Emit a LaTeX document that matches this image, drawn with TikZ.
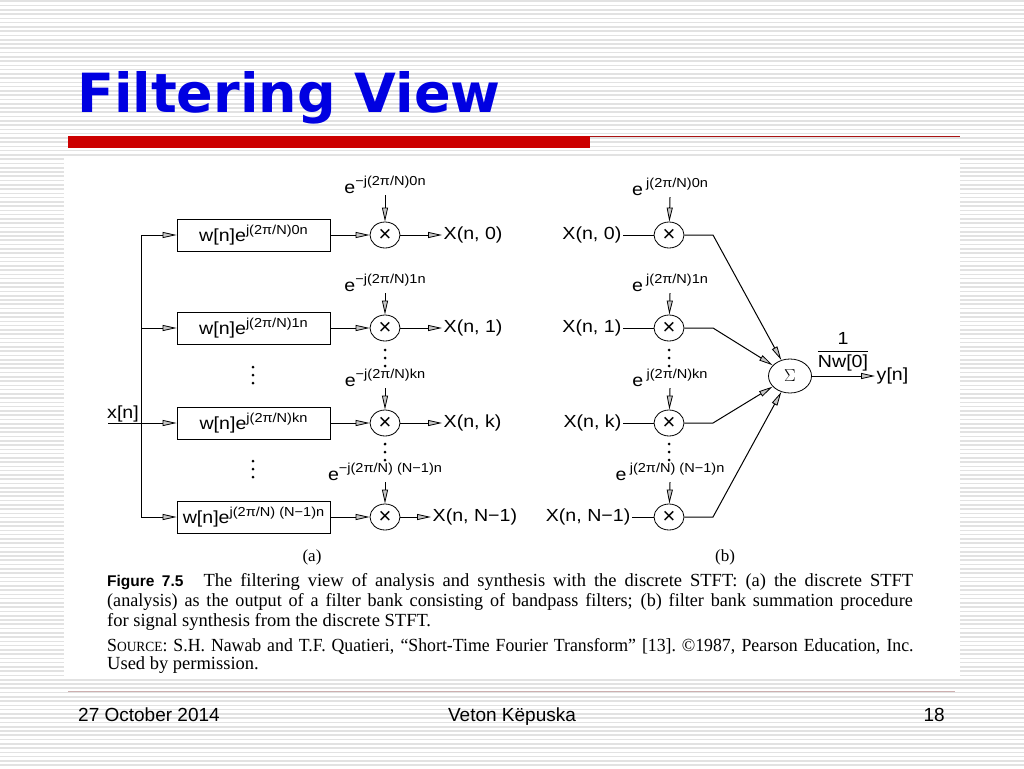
\documentclass[tikz,border=0pt]{standalone}
\usepackage{fontspec}
\usepackage{amsmath}
\setmainfont{Liberation Serif}
\newfontfamily\titlefont{DejaVu Sans}
\newfontfamily\lsans{Liberation Sans}
\usetikzlibrary{arrows.meta,shapes.geometric}
\definecolor{stripe}{RGB}{226,226,226}
\definecolor{titleblue}{RGB}{0,0,225}
\definecolor{barred}{RGB}{204,0,0}
\definecolor{darkred}{RGB}{170,20,20}
\definecolor{footline}{RGB}{205,175,175}
\newcommand{\hs}[1]{\scalebox{1.12}[1]{#1}}
\newcommand{\ex}[1]{\raisebox{0.42em}{\fontsize{13}{14}\selectfont #1}}
\begin{document}
\begin{tikzpicture}[x=1pt,y=-1pt,
  lbl/.style={font=\lsans\fontsize{17.5}{19}\selectfont, inner sep=1.5pt},
  fbox/.style={draw, line width=0.8pt, minimum width=153pt, minimum height=32pt, inner sep=0pt, font=\lsans\fontsize{17.5}{19}\selectfont},
  mult/.style={draw, ellipse, line width=0.8pt, minimum width=30pt, minimum height=26pt, inner sep=0pt, font=\lsans\fontsize{22}{22}\selectfont},
  sigma/.style={draw, ellipse, line width=0.8pt, minimum width=43pt, minimum height=34pt, inner sep=0pt, font=\fontsize{17}{18}\selectfont},
  conn/.style={line width=1pt, -{Triangle[length=14pt,width=6pt,fill=gray!45,line width=0.8pt]}},
  wire/.style={line width=1pt},
  captxt/.style={font=\fontsize{18.5}{20}\selectfont, inner sep=0pt, anchor=base west},
  foot/.style={font=\lsans\fontsize{19}{21}\selectfont, inner sep=0pt, anchor=base},
]
\useasboundingbox (0,0) rectangle (1024,768);
% background
\fill[white] (0,0) rectangle (1024,768);
\foreach \i in {0,...,180} \fill[stripe] (0,{\i*4.267+0.5}) rectangle (1024,{\i*4.267+2.1});
\fill[white] (64,158) rectangle (960,676);
% title
\node[font=\titlefont\bfseries\fontsize{54}{60}\selectfont, text=titleblue, anchor=base west, inner sep=0pt] (title) at (77,112) {Filtering View};
\fill[barred] (68,136) rectangle (590,148);
\draw[darkred, line width=1.2pt] (590,136.6) -- (960,136.6);
% ---------- (a) ----------
\foreach \n/\y/\t in {0/235/0n, 1/328/1n, k/423/kn}{
  \node[fbox] (b\n) at (253.5,\y) {\hs{w[n]e\ex{j(2π/N)\t}}};
}
\node[fbox] (bN) at (253.5,517) {\hs{w[n]e\ex{j(2π/N) (N−1)n}}};
\coordinate (t0) at (141,235);
\coordinate (t1) at (141,328);
\coordinate (tk) at (141,423);
\coordinate (tN) at (141,517);
\coordinate (xin) at (108,423);
\draw[wire] (t0) -- (tN);
\draw[wire] (xin) -- (tk);
\node[lbl, anchor=south] (xlab) at (123,424) {\hs{x[n]}};
\foreach \n in {0,1,k,N} \draw[conn] (t\n) -- (b\n);
\node[mult] (m0) at (385,235) {×};
\node[mult] (m1) at (385,328) {×};
\node[mult] (mk) at (385,423) {×};
\node[mult] (mN) at (385,517) {×};
\node[lbl] (e0) at (385,185) {\hs{e\ex{−j(2π/N)0n}}};
\node[lbl] (e1) at (385,283) {\hs{e\ex{−j(2π/N)1n}}};
\node[lbl] (ek) at (385,378) {\hs{e\ex{−j(2π/N)kn}}};
\node[lbl] (eN) at (385,472) {\hs{e\ex{−j(2π/N) (N−1)n}}};
\foreach \n in {0,1,k,N}{
  \draw[conn] (b\n) -- (m\n);
  \draw[conn] (e\n.south) -- (m\n);
}
\node[lbl, anchor=west] (x0) at (442,235) {\hs{X(n, 0)}};
\node[lbl, anchor=west] (x1) at (442,328) {\hs{X(n, 1)}};
\node[lbl, anchor=west] (xk) at (442,423) {\hs{X(n, k)}};
\node[lbl, anchor=west] (xN) at (431,517) {\hs{X(n, N−1)}};
\foreach \n in {0,1,k,N} \draw[conn] (m\n) -- (x\n);
% dots (a)
\foreach \y in {367,375,383,461,469,477} \fill (253,\y) circle (1.5);
\foreach \y in {350,358,366,444,452,460} \fill (385,\y) circle (1.5);
\node[font=\fontsize{17}{18}\selectfont, inner sep=0pt] (la) at (312,557) {(a)};
% ---------- (b) ----------
\node[lbl, anchor=east] (y0) at (623,235) {\hs{X(n, 0)}};
\node[lbl, anchor=east] (y1) at (623,328) {\hs{X(n, 1)}};
\node[lbl, anchor=east] (yk) at (623,423) {\hs{X(n, k)}};
\node[lbl, anchor=east] (yN) at (632,517) {\hs{X(n, N−1)}};
\node[mult] (n0) at (669,235) {×};
\node[mult] (n1) at (669,328) {×};
\node[mult] (nk) at (669,423) {×};
\node[mult] (nN) at (669,517) {×};
\node[lbl] (f0) at (670,187) {\hs{e\,\ex{j(2π/N)0n}}};
\node[lbl] (f1) at (670,283) {\hs{e\,\ex{j(2π/N)1n}}};
\node[lbl] (fk) at (670,378) {\hs{e\,\ex{j(2π/N)kn}}};
\node[lbl] (fN) at (670,472) {\hs{e\,\ex{j(2π/N) (N−1)n}}};
\node[sigma] (sig) at (790,376) {$\Sigma$};
\foreach \n/\y in {0/235,1/328,k/423,N/517}{
  \draw[wire] (y\n) -- (n\n);
  \draw[conn] (f\n.south) -- (n\n);
  \coordinate (k\n) at (713,\y);
  \draw[conn] (n\n) -- (k\n) -- (sig);
}
\foreach \y in {350,358,366,444,452,460} \fill (669,\y) circle (1.5);
\node[lbl, anchor=west] (yout) at (875,376) {\hs{y[n]}};
\draw[conn] (sig) -- (yout);
\node[lbl] (frac) at (843,352) {\hs{$\dfrac{\text{1}}{\text{Nw[0]}}$}};
\node[font=\fontsize{17}{18}\selectfont, inner sep=0pt] (lb) at (725,557) {(b)};
% ---------- caption ----------
\node[captxt] (c1) at (107,586) {\makebox[806pt][s]{{\lsans\bfseries\fontsize{15.5}{18}\selectfont Figure 7.5}\hspace{20pt}The filtering view of analysis and synthesis with the discrete STFT: (a) the discrete STFT}};
\node[captxt] (c2) at (107,606) {\scalebox{0.98}[1]{\makebox[822pt][s]{(analysis) as the output of a filter bank consisting of bandpass filters; (b) filter bank summation procedure}}};
\node[captxt] (c3) at (107,626) {for signal synthesis from the discrete STFT.};
\node[captxt] (c4) at (107,651) {\scalebox{0.96}[1]{\makebox[840pt][s]{S{\fontsize{14}{15}\selectfont OURCE}: S.H. Nawab and T.F. Quatieri, “Short-Time Fourier Transform” [13].\hspace{6pt}©1987, Pearson Education, Inc.}}};
\node[captxt] (c5) at (107,669) {Used by permission.};
% ---------- footer ----------
\draw[footline, line width=1pt] (68,691) -- (955,691);
\node[foot, anchor=base west] (date) at (78,721) {27 October 2014};
\node[foot] (author) at (512,721) {Veton Këpuska};
\node[foot, anchor=base east] (page) at (945,721) {18};
\end{tikzpicture}
\end{document}
